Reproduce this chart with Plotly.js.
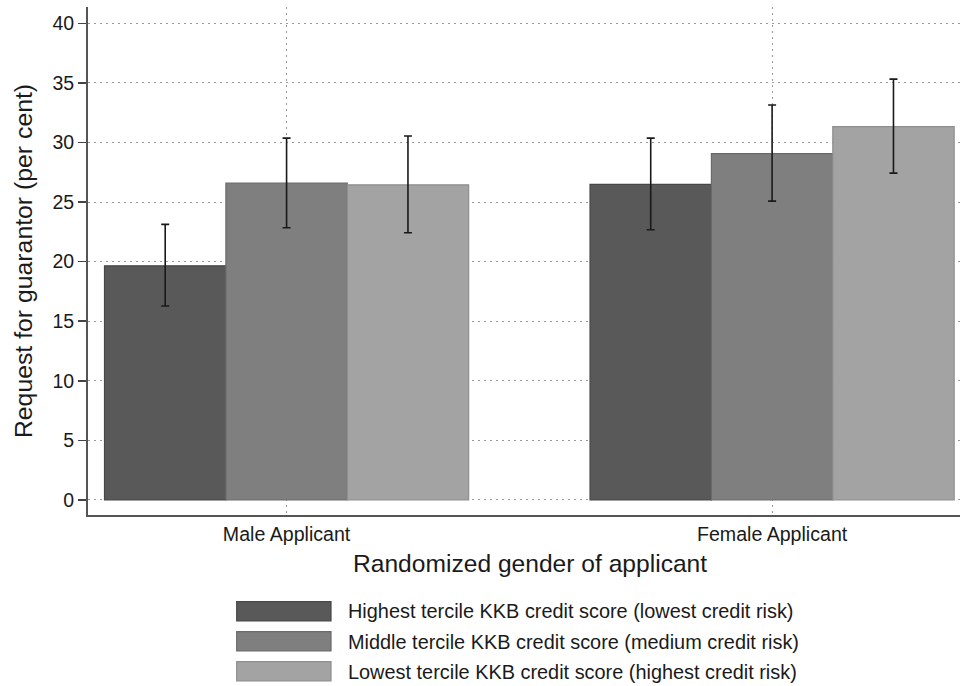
<!DOCTYPE html>
<html>
<head>
<meta charset="utf-8">
<script src="https://cdn.plot.ly/plotly-3.0.1.min.js"></script>
<style>
  html, body { margin: 0; padding: 0; background: #fff; }
  #chart { width: 960px; height: 686px; }
</style>
</head>
<body>
<div id="chart"></div>
<script>
// ---- data ----
const categories = ["Male Applicant", "Female Applicant"];
const seriesNames = [
  "Highest tercile KKB credit score (lowest credit risk)",
  "Middle tercile KKB credit score (medium credit risk)",
  "Lowest tercile KKB credit score (highest credit risk)"
];
const highestValues = [19.65, 26.48];
const middleValues  = [26.59, 29.06];
const lowestValues  = [26.45, 31.33];
const highestUpper = [23.13, 30.37];
const highestLower = [16.28, 22.68];
const middleUpper  = [30.37, 33.14];
const middleLower  = [22.85, 25.08];
const lowestUpper  = [30.54, 35.32];
const lowestLower  = [22.43, 27.43];
const yTicks = [0, 5, 10, 15, 20, 25, 30, 35, 40];
const xTitle = "Randomized gender of applicant";
const yTitle = "Request for guarantor (per cent)";

// ---- styles ----
const fills   = ["#595959", "#7f7f7f", "#a3a3a3"];
const borders = ["#474747", "#6a6a6a", "#8e8e8e"];
const FONT = "Liberation Sans, Arial, sans-serif";

const valueSets = [highestValues, middleValues, lowestValues];
const upperSets = [highestUpper, middleUpper, lowestUpper];
const lowerSets = [highestLower, middleLower, lowestLower];

const traces = valueSets.map((vals, i) => ({
  type: "bar",
  name: seriesNames[i],
  x: categories,
  y: vals,
  marker: { color: fills[i], line: { color: borders[i], width: 1.2 } },
  error_y: {
    type: "data",
    symmetric: false,
    array: vals.map((v, j) => upperSets[i][j] - v),
    arrayminus: vals.map((v, j) => v - lowerSets[i][j]),
    color: "#1a1a1a",
    thickness: 1.6,
    width: 4
  },
  showlegend: false,
  hoverinfo: "skip"
}));

// ---- custom legend (wide swatches like the original) ----
const L = 88, R = 0, T = 7, B = 171, W = 960, H = 686;
const pw = W - L - R, ph = H - T - B;
const px2x = p => (p - L) / pw;
const py2y = p => (H - B - p) / ph;
const rowTops = [601.7, 631.7, 661.7];
const shapes = [], annotations = [];
rowTops.forEach((top, i) => {
  shapes.push({
    type: "rect", xref: "paper", yref: "paper",
    x0: px2x(236.7), x1: px2x(331), y0: py2y(top), y1: py2y(top + 19.3),
    fillcolor: fills[i], line: { color: borders[i], width: 1.2 }
  });
  annotations.push({
    xref: "paper", yref: "paper",
    x: px2x(345.5), y: py2y(top + 9.8),
    xanchor: "left", yanchor: "middle",
    text: seriesNames[i], showarrow: false,
    font: { family: FONT, size: 19.9, color: "#1a1a1a" }
  });
});
// x-axis title (slightly right of plot centre, as in the original)
annotations.push({
  xref: "paper", yref: "paper",
  x: px2x(529.5), y: py2y(563.5),
  xanchor: "center", yanchor: "middle",
  text: xTitle, showarrow: false,
  font: { family: FONT, size: 24.6, color: "#1a1a1a" }
});

const GRID_DASH = "1.5px,4.5px";

const layout = {
  width: W, height: H,
  margin: { l: L, r: R, t: T, b: B, pad: 0 },
  paper_bgcolor: "#ffffff",
  plot_bgcolor: "#ffffff",
  barmode: "group",
  bargap: 0.25,
  bargroupgap: 0,
  showlegend: false,
  font: { family: FONT, color: "#1a1a1a" },
  xaxis: {
    type: "category",
    range: [-0.409, 1.387],
    showline: true, linecolor: "#555555", linewidth: 2,
    ticks: "",
    showgrid: true, gridcolor: "#9a9a9a", griddash: GRID_DASH, gridwidth: 1,
    zeroline: false,
    tickfont: { family: FONT, size: 19.6, color: "#1a1a1a" },
    ticklabelstandoff: 0,
    fixedrange: true
  },
  yaxis: {
    range: [-1.26, 41.37],
    tickvals: yTicks,
    ticktext: yTicks.map(String),
    showline: true, linecolor: "#555555", linewidth: 2,
    ticks: "outside", ticklen: 8, tickwidth: 1.5, tickcolor: "#444444",
    showgrid: true, gridcolor: "#9a9a9a", griddash: GRID_DASH, gridwidth: 1,
    zeroline: false,
    tickfont: { family: FONT, size: 19.5, color: "#1a1a1a" },
    title: { text: yTitle, font: { family: FONT, size: 24.8, color: "#1a1a1a" }, standoff: 13 },
    fixedrange: true
  },
  shapes: shapes,
  annotations: annotations
};

Plotly.newPlot("chart", traces, layout, { displayModeBar: false, staticPlot: true });
</script>
</body>
</html>
